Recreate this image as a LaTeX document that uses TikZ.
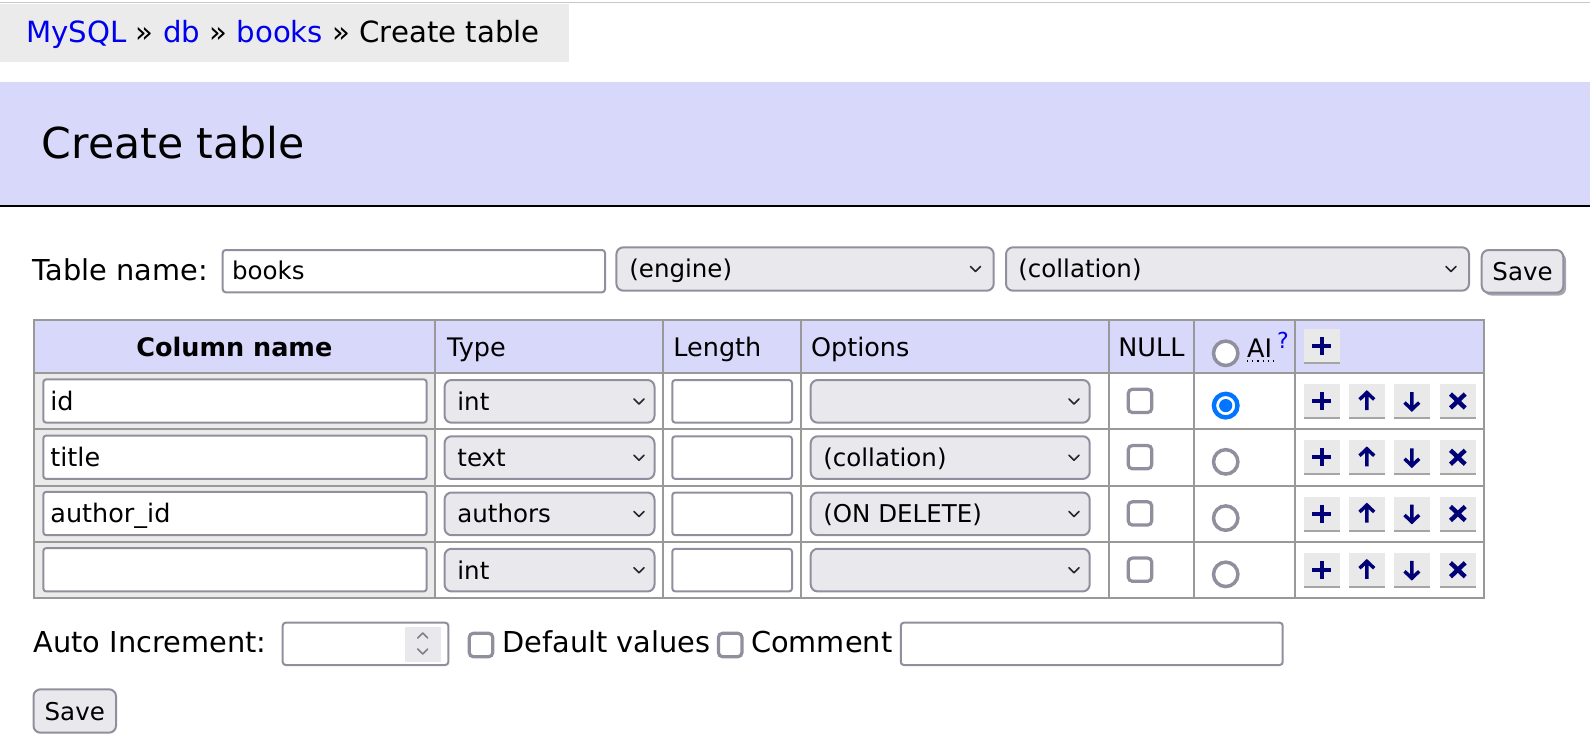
\documentclass[tikz,border=0pt]{standalone}
\usepackage{fontspec}
\setmainfont{DejaVu Sans}
\usepackage{tikz}
\definecolor{band}{RGB}{216,216,250}
\definecolor{crumb}{RGB}{235,235,235}
\definecolor{topline}{RGB}{200,200,200}
\definecolor{grid}{RGB}{153,153,153}
\definecolor{frame}{RGB}{143,143,157}
\definecolor{field}{RGB}{233,233,237}
\definecolor{link}{RGB}{0,0,238}
\definecolor{radio}{RGB}{0,117,255}
\definecolor{icon}{RGB}{0,0,120}
\definecolor{btn}{RGB}{233,233,233}
\definecolor{btnline}{RGB}{165,165,165}
\definecolor{shadow}{RGB}{165,165,175}

\begin{document}
\begin{tikzpicture}[x=0.5pt,y=-0.5pt,
    txt/.style={inner sep=0pt,anchor=base west,font=\fontsize{14.4}{17}\selectfont},
    celltxt/.style={inner sep=0pt,anchor=base west,font=\fontsize{12.75}{15}\selectfont},
    ctltxt/.style={inner sep=0pt,anchor=base west,font=\fontsize{12.25}{15}\selectfont},
    fieldbox/.style={draw=frame,fill=white,line width=1pt,rounded corners=1.5pt},
    selbox/.style={draw=frame,fill=field,line width=1pt,rounded corners=3.5pt},
    chkbox/.style={draw=frame,fill=white,line width=1.6pt,rounded corners=2pt},
    btnbox/.style={draw=frame,fill=field,line width=1pt,rounded corners=3.5pt},
    chev/.style={draw=black!85,line width=0.75pt,line cap=round,line join=round},
    gridline/.style={draw=grid,line width=1pt,line cap=rect},
    ico/.style={draw=icon,line width=2pt}]
  \useasboundingbox (0,0) rectangle (1590,744);

  % breadcrumb
  \draw[topline,line width=0.75pt] (0,2.7)--(1590,2.7);
  \fill[crumb] (0,4) rectangle (569,61.7);
  \node[txt,font=\fontsize{14.6}{17}\selectfont] (crumbs) at (26,42.5)
    {\textcolor{link}{MySQL} » \textcolor{link}{db} » \textcolor{link}{books} » Create table};

  % title band
  \fill[band] (0,81.7) rectangle (1590,205);
  \draw[line width=1pt] (0,206)--(1590,206);
  \node[txt,font=\fontsize{21.3}{25}\selectfont] (title) at (41.3,158.8) {Create table};

  % table name line
  \node[txt] (tnlabel) at (32.3,280) {Table name:};
  \draw[fieldbox] (222.7,250) rectangle (605,292.3);
  \node[ctltxt] (tname) at (231.7,279.5) {books};
  \draw[selbox] (616.4,247.3) rectangle (993.7,290.7);
  \node[ctltxt] (engine) at (629,277) {(engine)};
  \draw[chev] (970.5,266.5)--(975.5,271.5)--(980.5,266.5);
  \draw[selbox] (1006,247.3) rectangle (1469,290.7);
  \node[ctltxt] (coll) at (1018,277) {(collation)};
  \draw[chev] (1446,266.5)--(1451,271.5)--(1456,266.5);
  \fill[shadow,rounded corners=3.5pt] (1484,253) rectangle (1566,295.5);
  \draw[btnbox] (1481.7,250) rectangle (1563.3,292.7);
  \node[ctltxt,anchor=base] (save1) at (1522.5,280.5) {Save};

  % table
  \fill[band] (33.7,320) rectangle (1484,373);
  \fill[crumb] (33.7,373) rectangle (435,598);
  \foreach \yy in {320,373,429.25,485.5,541.75,598}
    \draw[gridline] (33.7,\yy)--(1484,\yy);
  \foreach \xx in {33.7,435,663.4,800.9,1109,1194,1295,1484}
    \draw[gridline] (\xx,320)--(\xx,598);

  \node[celltxt,anchor=base,font=\bfseries\fontsize{12.75}{15}\selectfont] (hname) at (234.35,356.7) {Column name};
  \node[celltxt] (htype) at (446.8,356.7) {Type};
  \node[celltxt] (hlen) at (673,356.7) {Length};
  \node[celltxt] (hopt) at (810.6,356.7) {Options};
  \node[celltxt] (hnull) at (1118,356.7) {NULL};
  \draw[draw=frame,fill=white,line width=1.75pt] (1225.7,353.3) circle (6.1pt);
  \node[celltxt] (hai) at (1246.7,357.5) {AI};
  \draw[dotted,line width=0.6pt] (1247,361)--(1275,361);
  \node[celltxt,text=link,font=\fontsize{11}{13}\selectfont] (hq) at (1276.7,348.3) {?};
  \fill[btn] (1304,329) rectangle (1339.7,362);
  \draw[btnline,line width=1pt] (1304,363)--(1339.7,363);
  \draw[ico] (1312.4,346)--(1331.3,346) (1321.85,337)--(1321.85,355);

  \foreach \row/\cname/\ctype/\copt in {0/id/int/{},1/title/text/{(collation)},2/author\_id/authors/{(ON DELETE)},3/{}/int/{}}{
    \pgfmathsetmacro\ty{373+56.25*\row}
    \draw[fieldbox] (43.3,\ty+6.3) rectangle (426.7,\ty+49.7);
    \node[celltxt] (name\row) at (50,\ty+37.3) {\cname};
    \draw[selbox] (444.6,\ty+7) rectangle (654.5,\ty+49.7);
    \node[ctltxt] (type\row) at (457,\ty+37.3) {\ctype};
    \draw[chev] (634,\ty+26)--(639,\ty+31)--(644,\ty+26);
    \draw[fieldbox] (672.3,\ty+7) rectangle (792,\ty+49.7);
    \draw[selbox] (810.7,\ty+7) rectangle (1089.7,\ty+49.7);
    \node[ctltxt] (opt\row) at (823,\ty+37.3) {\copt};
    \draw[chev] (1069,\ty+26)--(1074,\ty+31)--(1079,\ty+26);
    \draw[chkbox] (1128.3,\ty+16.3) rectangle (1151.7,\ty+39.5);
    \ifnum\row=0
      \draw[draw=radio,fill=white,line width=2.2pt] (1225.7,\ty+32.6) circle (5.9pt);
      \fill[radio] (1225.7,\ty+32.6) circle (3.3pt);
    \else
      \draw[draw=frame,fill=white,line width=1.75pt] (1225.7,\ty+32.6) circle (6.1pt);
    \fi
    \foreach \bx in {1304,1349,1394,1440}{
      \fill[btn] (\bx,\ty+11) rectangle (\bx+35.7,\ty+44);
      \draw[btnline,line width=1pt] (\bx,\ty+45)--(\bx+35.7,\ty+45);
    }
    \draw[ico] (1312.4,\ty+28)--(1331.3,\ty+28) (1321.85,\ty+19)--(1321.85,\ty+37);
    \draw[ico,line width=1.7pt] (1366.85,\ty+37)--(1366.85,\ty+19.5) (1359.5,\ty+26.5)--(1366.85,\ty+19.5)--(1374.2,\ty+26.5);
    \draw[ico,line width=1.7pt] (1411.85,\ty+19)--(1411.85,\ty+36.5) (1404.5,\ty+29.5)--(1411.85,\ty+36.5)--(1419.2,\ty+29.5);
    \draw[ico,line width=2.2pt] (1450.5,\ty+21)--(1465.2,\ty+35) (1450.5,\ty+35)--(1465.2,\ty+21);
  }

  % bottom line
  \node[txt] (ailabel) at (33.3,652.7) {Auto Increment:};
  \draw[fieldbox] (282.7,622.7) rectangle (448.3,665);
  \fill[field] (405,627.3) rectangle (441,661.7);
  \draw[chev,draw=gray] (417.7,638)--(422.7,633)--(427.7,638);
  \draw[chev,draw=gray] (417.7,649)--(422.7,654)--(427.7,649);
  \draw[chkbox] (469.3,633.3) rectangle (492.7,656.7);
  \node[txt] (defvals) at (502,652.7) {Default values};
  \draw[chkbox] (718.5,633.3) rectangle (741.9,656.7);
  \node[txt] (comment) at (750.8,652.7) {Comment};
  \draw[fieldbox] (900.8,622.7) rectangle (1282.7,665);
  \draw[btnbox] (33.5,689.3) rectangle (116,732.7);
  \node[ctltxt,anchor=base] (save2) at (74.75,720) {Save};
\end{tikzpicture}
\end{document}
